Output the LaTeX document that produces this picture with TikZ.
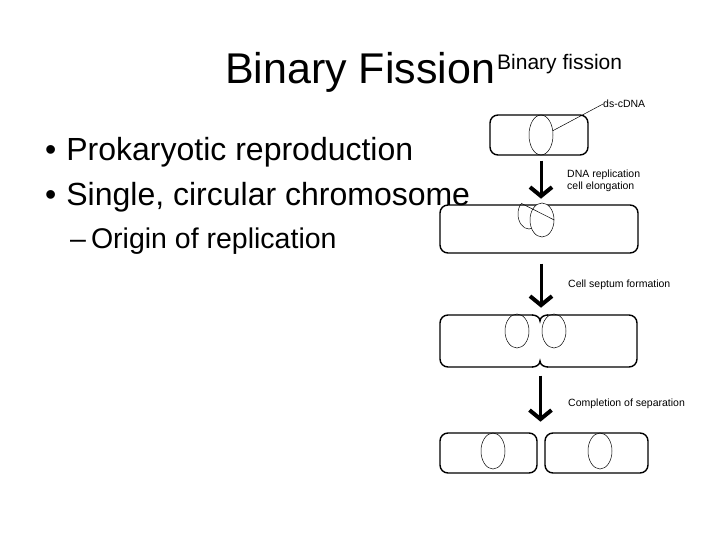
\documentclass[tikz,border=0pt]{standalone}
\usepackage{fontspec}
\setmainfont{Liberation Sans}
\usetikzlibrary{arrows.meta,positioning,shapes.geometric}
\tikzset{
	cell/.style={draw,line width=1.4pt,rounded corners=8pt,inner sep=0pt},
	dna/.style={draw,ellipse,line width=0.5pt,inner sep=0pt,minimum width=24pt},
	stage/.style={line width=3pt,-{Straight Barb[length=9pt,width=22pt,line width=4pt]}},
	note/.style={font=\fontsize{10.5}{11.5}\selectfont,anchor=west,align=left,inner sep=0pt},
	point/.style={font=\fontsize{32}{36}\selectfont,anchor=base west,inner sep=0pt}
}
\begin{document}
\begin{tikzpicture}[x=1pt,y=-1pt]
	\useasboundingbox (0,0) rectangle (720,540);
	% title
	\node[font=\fontsize{43}{48}\selectfont,anchor=base west,inner sep=0pt] (title) at (225,84) {Binary Fission};
	\node[font=\fontsize{21}{24}\selectfont,anchor=base west,inner sep=0pt] (subtitle) at (497,70) {Binary fission};
	% bullets
	\node[point] (b1) at (45,161) {•\hspace{10pt}Prokaryotic reproduction};
	\node[point] (b2) at (45,206) {•\hspace{10pt}Single, circular chromosome};
	\node[point,font=\fontsize{28.5}{32}\selectfont] (b3) at (70,248) {–\hspace{5pt}Origin of replication};
	
	% cells
	\node[cell,minimum width=98pt,minimum height=40pt] (c1) at (539,135) {};
	\node[cell,minimum width=198pt,minimum height=48pt] (c2) at (539,229) {};
	\node[cell,minimum width=197pt,minimum height=52pt] (c3) at (538.5,341) {};
	\fill[white] (533,313) rectangle (547,318);
	\fill[white] (533,364) rectangle (547,369);
	\draw[line width=1.4pt] (532,315) to[out=0,in=90] (540,321) to[out=90,in=180] (548,315);
	\draw[line width=1.4pt] (532,367) to[out=0,in=-90] (540,361) to[out=-90,in=180] (548,367);
	\node[cell,minimum width=97pt,minimum height=40pt] (c4a) at (488.5,453) {};
	\node[cell,minimum width=103pt,minimum height=40pt] (c4b) at (596.5,453) {};
	
	% chromosomes
	\node[dna,minimum height=40pt] (d1) at (541,135) {};
	\begin{scope}
		\clip (440,205) rectangle (638,253);
		\node[dna,minimum width=22pt,minimum height=30pt] (d2b) at (529,214) {};
	\end{scope}
	\node[dna,fill=white,minimum height=34pt] (d2) at (542,220) {};
	\draw[line width=0.5pt] (d2b.north west) -- (d2.east);
	\node[dna,minimum height=34pt] (d3a) at (517,331) {};
	\node[dna,minimum height=34pt] (d3b) at (554,331) {};
	\node[dna,minimum height=36pt] (d4a) at (493,451) {};
	\node[dna,minimum height=36pt] (d4b) at (600,451) {};
	
	% labels
	\node[note] (l0) at (603,104) {ds-cDNA};
	\draw[line width=0.5pt] (d1.20) -- (l0.west);
	\node[note] (l1) at (567,181) {DNA replication\\cell elongation};
	\node[note] (l2) at (568,285) {Cell septum formation};
	\node[note] (l3) at (568,404) {Completion of separation};
	
	% steps
	\draw[stage] (c1.south) ++(2,5) coordinate (s1) -- ++(0,38) coordinate (e1);
	\draw[stage] (c2.south) ++(2,10) coordinate (s2) -- ++(0,44) coordinate (e2);
	\draw[stage] (c3.south) ++(2,8) coordinate (s3) -- ++(0,46) coordinate (e3);
\end{tikzpicture}
\end{document}
